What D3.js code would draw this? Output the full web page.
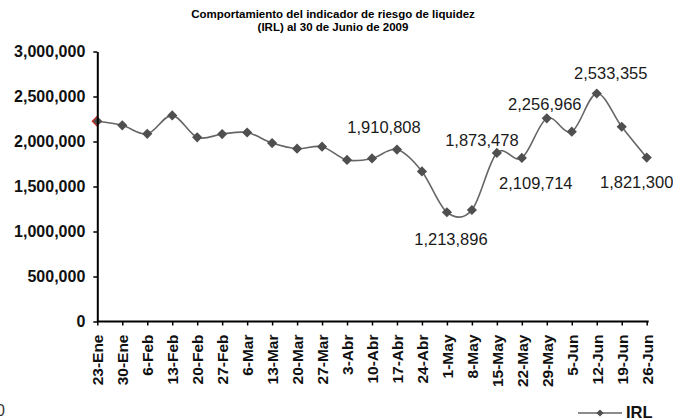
<!DOCTYPE html>
<html>
<head>
<meta charset="utf-8">
<script src="https://cdn.jsdelivr.net/npm/d3@7"></script>
<style>
  body { margin: 0; background: #fff; }
  svg { display: block; font-family: "Liberation Sans", Arial, sans-serif; }
</style>
</head>
<body>
<div id="chart"></div>
<script>
// semanas (categorias del eje x)
const fechas = ["23-Ene", "30-Ene", "6-Feb", "13-Feb", "20-Feb", "27-Feb", "6-Mar", "13-Mar",
    "20-Mar", "27-Mar", "3-Abr", "10-Abr", "17-Abr", "24-Abr", "1-May", "8-May", "15-May",
    "22-May", "29-May", "5-Jun", "12-Jun", "19-Jun", "26-Jun"];

// IRL semanal
const irl = [2225000, 2180000, 2085000, 2290000, 2046000, 2083000, 2100000, 1983000,
    1920000, 1942000, 1795000, 1812000, 1910808, 1668000, 1213896, 1239000, 1873478,
    1817000, 2256966, 2109714, 2533355, 2164000, 1821300];

const yTicks = [0, 500000, 1000000, 1500000, 2000000, 2500000, 3000000];

// puntos con etiqueta de dato
const etiquetas = ["17-Abr", "1-May", "15-May", "29-May", "5-Jun", "12-Jun", "26-Jun"];

const width = 673, height = 420;
const margin = { top: 51.5, right: 26.3, bottom: 98.5, left: 97.3 };

const svg = d3.select("#chart").append("svg")
    .attr("width", width)
    .attr("height", height);

const x = d3.scalePoint()
    .domain(fechas)
    .range([margin.left, width - margin.right]);

const y = d3.scaleLinear()
    .domain([0, 3000000])
    .range([height - margin.bottom, margin.top]);

const data = fechas.map((f, i) => ({ fecha: f, valor: irl[i] }));

// titulo
const title = svg.append("text")
    .attr("text-anchor", "middle")
    .attr("font-weight", "bold")
    .attr("font-size", 11.5)
    .attr("fill", "#000");
title.append("tspan").attr("x", 333).attr("y", 18).text("Comportamiento del indicador de riesgo de liquidez");
title.append("tspan").attr("x", 333).attr("y", 31).text("(IRL) al 30 de Junio de 2009");

// linea suavizada
const line = d3.line()
    .x(d => x(d.fecha))
    .y(d => y(d.valor))
    .curve(d3.curveCatmullRom.alpha(0));

svg.append("path")
    .datum(data)
    .attr("fill", "none")
    .attr("stroke", "#666")
    .attr("stroke-width", 1.6)
    .attr("d", line);

const diamond = d3.symbol().type(d3.symbolSquare).size(52);

svg.selectAll(".marker")
    .data(data)
    .enter()
    .append("path")
    .attr("class", "marker")
    .attr("d", diamond)
    .attr("transform", d => `translate(${x(d.fecha)},${y(d.valor)}) rotate(45)`)
    .attr("fill", "#4f4f4f");

// borde rojo del primer marcador (solo lado izquierdo)
const p0 = data[0];
svg.append("path")
    .attr("d", "M0,-5L-5,0L0,5")
    .attr("transform", `translate(${x(p0.fecha)},${y(p0.valor)})`)
    .attr("fill", "none")
    .attr("stroke", "#c8312a")
    .attr("stroke-width", 1.2);

// eje y
const yAxis = svg.append("g")
    .attr("transform", `translate(${margin.left},0)`)
    .call(d3.axisLeft(y).tickValues(yTicks).tickSize(4).tickSizeOuter(0).tickFormat(d3.format(",")));
yAxis.select(".domain").attr("stroke", "#000").attr("stroke-width", 2);
yAxis.selectAll(".tick line").attr("stroke", "#000").attr("stroke-width", 1.5);
yAxis.selectAll(".tick text")
    .attr("x", -12)
    .attr("font-size", 16)
    .attr("font-weight", "bold")
    .attr("font-family", "'Liberation Sans', Arial, sans-serif")
    .attr("fill", "#111");

// eje x
const xAxis = svg.append("g")
    .attr("transform", `translate(0,${height - margin.bottom})`)
    .call(d3.axisBottom(x).tickSize(4).tickSizeOuter(0));
xAxis.select(".domain")
    .attr("stroke", "#000")
    .attr("stroke-width", 2)
    .attr("d", `M${margin.left},0H${width - margin.right + 2}`);
xAxis.selectAll(".tick line").attr("stroke", "#000").attr("stroke-width", 1.5);
xAxis.selectAll(".tick text")
    .attr("transform", "translate(0,13) rotate(-90)")
    .attr("x", 0)
    .attr("y", 0)
    .attr("dy", "0.36em")
    .attr("text-anchor", "end")
    .attr("font-size", 15.5)
    .attr("font-weight", "bold")
    .attr("font-family", "'Liberation Sans', Arial, sans-serif")
    .attr("fill", "#111");

// etiquetas de datos (desplazamientos como en el original)
const offsets = {
    "17-Abr": [-13, -17], "1-May": [4, 33], "15-May": [-15, -7], "29-May": [-2, -8],
    "5-Jun": [-36, 57], "12-Jun": [14, -14], "26-Jun": [-10, 30]
};

svg.selectAll(".label")
    .data(data.filter(d => etiquetas.includes(d.fecha)))
    .enter()
    .append("text")
    .attr("class", "label")
    .attr("x", d => x(d.fecha) + offsets[d.fecha][0])
    .attr("y", d => y(d.valor) + offsets[d.fecha][1])
    .attr("text-anchor", "middle")
    .attr("font-size", 16.5)
    .attr("fill", "#1a1a1a")
    .text(d => d3.format(",")(d.valor));

// leyenda
const legend = svg.append("g").attr("transform", "translate(578,413)");
legend.append("line")
    .attr("x1", 0).attr("x2", 44)
    .attr("stroke", "#666").attr("stroke-width", 1.6);
legend.append("path")
    .attr("d", d3.symbol().type(d3.symbolSquare).size(26))
    .attr("transform", "translate(22,0) rotate(45)")
    .attr("fill", "#4f4f4f");
legend.append("text")
    .attr("x", 48)
    .attr("y", 5)
    .attr("font-size", 16.5)
    .attr("font-weight", "bold")
    .attr("fill", "#111")
    .text("IRL");

// "0" recortado en la esquina inferior izquierda
svg.append("text")
    .attr("x", -4)
    .attr("y", 416)
    .attr("font-size", 16)
    .attr("fill", "#333")
    .text("0");
</script>
</body>
</html>
